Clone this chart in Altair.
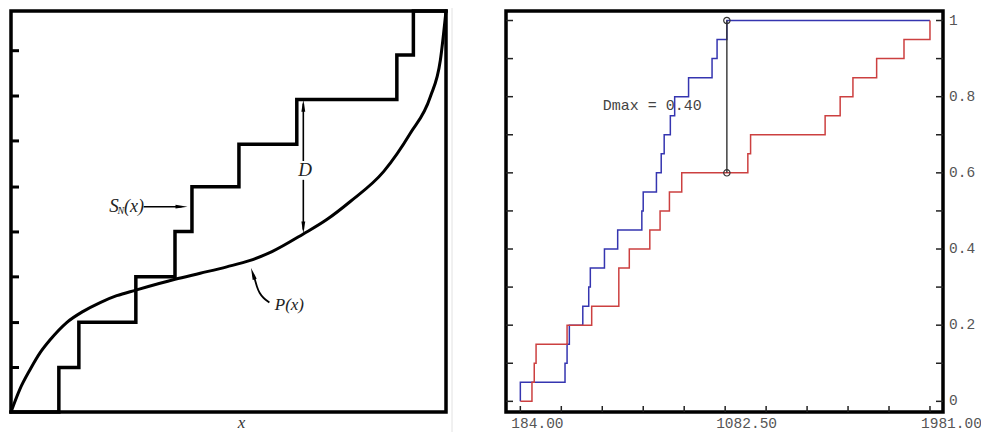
import altair as alt
import pandas as pd

# ---------------- Left panel: S_N(x) vs P(x) ----------------
sn_x = [0.0, 0.110, 0.156, 0.287, 0.377, 0.416, 0.524, 0.657, 0.887, 0.925, 1.0]
sn_y = [0.0, 0.111, 0.224, 0.337, 0.450, 0.562, 0.668, 0.779, 0.890, 1.0, 1.0]

px_x = [0.0, 0.020, 0.044, 0.067, 0.090, 0.128, 0.166, 0.205, 0.243, 0.287, 0.377,
        0.435, 0.496, 0.550, 0.600, 0.672, 0.726, 0.780, 0.857, 0.918, 0.964,
        0.987, 1.0]
px_y = [0.0, 0.056, 0.106, 0.148, 0.180, 0.223, 0.251, 0.273, 0.290, 0.304, 0.331,
        0.346, 0.362, 0.378, 0.400, 0.444, 0.480, 0.525, 0.600, 0.695, 0.786,
        0.877, 1.0]

left_ticks = [0.111, 0.223, 0.337, 0.449, 0.561, 0.676, 0.788, 0.901]

# annotation anchors (data units)
d_x = 0.672
d_top, d_gap_top, d_gap_bot, d_bot = 0.779, 0.626, 0.579, 0.445
sn_arrow_x = [0.305, 0.392]
sn_arrow_y = 0.512
p_arrow_x = [0.594, 0.580, 0.571, 0.565, 0.561, 0.557]
p_arrow_y = [0.273, 0.284, 0.297, 0.313, 0.330, 0.342]

# ---------------- Right panel: two-sample KS ----------------
blue_sample = [184, 380, 389, 399, 458, 484, 491, 553, 611, 717, 723, 781, 802,
               815, 842, 861, 922, 1025, 1047, 1090]
red_sample = [235, 245, 253, 389, 497, 616, 616, 662, 752, 797, 838, 892, 1182,
              1194, 1521, 1587, 1643, 1747, 1867, 1981]
x_ticks = [184.0, 363.7, 543.4, 723.1, 902.8, 1082.5, 1262.2, 1441.9, 1621.6,
           1801.3, 1981.0]
x_tick_labels = [184.0, 1082.5, 1981.0]
y_ticks = [0.0, 0.1, 0.2, 0.3, 0.4, 0.5, 0.6, 0.7, 0.8, 0.9, 1.0]
y_tick_labels = [0.0, 0.2, 0.4, 0.6, 0.8, 1.0]


def ecdf_points(sample, start, end):
    s = sorted(sample)
    n = len(s)
    pts = [(start, 0.0)]
    i = 0
    while i < n:
        v = s[i]
        j = i
        while j < n and s[j] == v:
            j += 1
        pts.append((v, j / n))
        i = j
    if pts[-1][0] < end:
        pts.append((end, 1.0))
    return pts


def ecdf_at(sample, v):
    return sum(1 for s in sample if s <= v) / len(sample)


x_lo = min(blue_sample + red_sample)
x_hi = max(blue_sample + red_sample)

rows = []
for name, smp in (("blue", blue_sample), ("red", red_sample)):
    for k, (xv, yv) in enumerate(ecdf_points(smp, x_lo, x_hi)):
        rows.append({"series": name, "x": xv, "y": yv, "i": k})
ecdf_df = pd.DataFrame(rows)

best = (0.0, None)
for v in sorted(set(blue_sample + red_sample)):
    d = abs(ecdf_at(blue_sample, v) - ecdf_at(red_sample, v))
    if d > best[0] + 1e-12:
        best = (d, v)
dmax, dmax_x = best
dmax_df = pd.DataFrame({
    "x": [dmax_x, dmax_x],
    "y": [ecdf_at(blue_sample, dmax_x), ecdf_at(red_sample, dmax_x)],
})
dtext_df = pd.DataFrame({"x": [545.6], "y": [0.779], "t": ["Dmax = %.2f" % dmax]})

LW, LH = 435, 401
RW, RH = 437, 401

# ================= LEFT CHART =================
lxs = alt.Scale(domain=[0, 1], nice=False, zero=False)
lys = alt.Scale(domain=[0, 1], nice=False, zero=False)


def LX(f="x:Q"):
    return alt.X(f, scale=lxs, axis=None)


def LY(f="y:Q"):
    return alt.Y(f, scale=lys, axis=None)


sn_df = pd.DataFrame({"x": sn_x, "y": sn_y, "i": list(range(len(sn_x)))})
p_df = pd.DataFrame({"x": px_x, "y": px_y, "i": list(range(len(px_x)))})

step_layer = alt.Chart(sn_df).mark_line(
    interpolate="step-after", color="black", strokeWidth=3.5, strokeCap="square"
).encode(x=LX(), y=LY(), order="i:Q")

lticks_layer = alt.Chart(pd.DataFrame({"y": left_ticks})).mark_tick(
    orient="horizontal", color="black", size=8, thickness=3, opacity=1
).encode(x=alt.value(4), y=LY())

p_layer = alt.Chart(p_df).mark_line(
    interpolate="monotone", color="black", strokeWidth=3, strokeCap="round"
).encode(x=LX(), y=LY(), order="i:Q")

d_lines = pd.DataFrame({
    "x": [d_x, d_x, d_x, d_x],
    "y": [d_top - 0.01, d_gap_top, d_gap_bot, d_bot + 0.01],
    "g": ["a", "a", "b", "b"],
})
d_layer = alt.Chart(d_lines).mark_line(color="black", strokeWidth=1.6).encode(
    x=LX(), y=LY(), detail="g:N")

heads_df = pd.DataFrame({
    "x": [d_x, d_x, sn_arrow_x[1], 0.556],
    "y": [d_top - 0.015, d_bot + 0.015, sn_arrow_y, 0.345],
    "shape": [
        "M0,-1L0.32,1L-0.32,1Z",
        "M0,1L0.32,-1L-0.32,-1Z",
        "M1,0L-1,0.32L-1,-0.32Z",
        "M0,-1L0.35,1L-0.35,1Z",
    ],
    "angle": [0, 0, 0, 342],
})
heads_layer = alt.Chart(heads_df).mark_point(
    filled=True, color="black", opacity=1, size=144, strokeWidth=0
).encode(
    x=LX(), y=LY(),
    shape=alt.Shape("shape:N", scale=None),
    angle=alt.Angle("angle:Q", scale=None),
)

sn_arrow_df = pd.DataFrame({"x": sn_arrow_x, "y": [sn_arrow_y, sn_arrow_y]})
sn_arrow_layer = alt.Chart(sn_arrow_df).mark_line(color="black", strokeWidth=1.6).encode(
    x=LX(), y=LY())

p_arrow_df = pd.DataFrame({"x": p_arrow_x, "y": p_arrow_y,
                           "i": list(range(len(p_arrow_x)))})
p_arrow_layer = alt.Chart(p_arrow_df).mark_line(
    color="black", strokeWidth=1.8, interpolate="basis"
).encode(x=LX(), y=LY(), order="i:Q")

labels_df = pd.DataFrame({
    "x": [0.226, 0.245, 0.260, 0.676, 0.640],
    "y": [0.500, 0.494, 0.500, 0.604, 0.268],
    "t": ["S", "N", "(x)", "D", "P(x)"],
    "fs": [19, 10, 18, 19, 17],
    "al": ["left", "left", "left", "center", "center"],
    "bl": ["alphabetic", "alphabetic", "alphabetic", "middle", "middle"],
})
text_layers = []
for _, r in labels_df.iterrows():
    text_layers.append(
        alt.Chart(pd.DataFrame([r])).mark_text(
            font="Liberation Serif", fontStyle="italic", fontSize=int(r["fs"]),
            align=r["al"], baseline=r["bl"], color="#222"
        ).encode(x=LX(), y=LY(), text="t:N")
    )

xtitle_layer = alt.Chart(pd.DataFrame({"x": [0.53], "t": ["x"]})).mark_text(
    font="Liberation Serif", fontStyle="italic", fontSize=17, align="center",
    baseline="alphabetic", color="#333"
).encode(x=LX(), y=alt.value(LH + 15.5), text="t:N")

# faint divider between the two figures
divider_layer = alt.Chart(pd.DataFrame({"d": [0]})).mark_rule(
    color="#e2e2e2", strokeWidth=1
).encode(x=alt.value(LW + 6), y=alt.value(-4), y2=alt.value(LH + 20))

left = alt.layer(
    divider_layer, step_layer, lticks_layer, p_layer, d_layer, sn_arrow_layer,
    p_arrow_layer, heads_layer, xtitle_layer, *text_layers
).properties(width=LW, height=LH)

# ================= RIGHT CHART =================
rxs = alt.Scale(domain=[121.1, 2038.1], nice=False, zero=False)
rys = alt.Scale(domain=[-0.028, 1.025], nice=False, zero=False)


def RX(f="x:Q"):
    return alt.X(f, scale=rxs, axis=None)


def RY(f="y:Q"):
    return alt.Y(f, scale=rys, axis=None)


label_font = "Liberation Mono"

ecdf_layer = alt.Chart(ecdf_df).mark_line(
    interpolate="step-after", strokeWidth=1.5
).encode(
    x=RX(), y=RY(),
    color=alt.Color("series:N", scale=alt.Scale(domain=["blue", "red"],
                                                range=["#3535b0", "#cc4040"]),
                    legend=None),
    order="i:Q",
)

yt_df = pd.DataFrame({"y": y_ticks})
rticks_left = alt.Chart(yt_df).mark_tick(
    orient="horizontal", color="#222", size=7, thickness=1.5, opacity=1
).encode(x=alt.value(3.5), y=RY())
rticks_right = alt.Chart(yt_df).mark_tick(
    orient="horizontal", color="#222", size=7, thickness=1.5, opacity=1
).encode(x=alt.value(RW - 3.5), y=RY())
rticks_bottom = alt.Chart(pd.DataFrame({"x": x_ticks})).mark_tick(
    orient="vertical", color="#222", size=6, thickness=1.5, opacity=1
).encode(x=RX(), y=alt.value(RH - 3))

xlab_df = pd.DataFrame({"x": x_tick_labels,
                        "t": ["%.2f" % v for v in x_tick_labels]})
xlab_layer = alt.Chart(xlab_df).mark_text(
    font=label_font, fontSize=14.5, align="left", baseline="alphabetic",
    dx=-9, color="#555"
).encode(x=RX(), y=alt.value(RH + 15.5), text="t:N")

ylab_df = pd.DataFrame({"y": y_tick_labels,
                        "t": ["%g" % v for v in y_tick_labels]})
ylab_layer = alt.Chart(ylab_df).mark_text(
    font=label_font, fontSize=14.5, align="left", baseline="middle", color="#555"
).encode(x=alt.value(RW + 6), y=RY(), text="t:N")

dmax_line = alt.Chart(dmax_df).mark_line(color="#333", strokeWidth=1.4).encode(
    x=RX(), y=RY())
dmax_pts = alt.Chart(dmax_df).mark_point(
    shape="circle", filled=False, color="#333", size=40, strokeWidth=1.2, opacity=1
).encode(x=RX(), y=RY())
dmax_text = alt.Chart(dtext_df).mark_text(
    font=label_font, fontSize=15, align="left", baseline="middle", color="#444"
).encode(x=RX(), y=RY(), text="t:N")

right = alt.layer(
    dmax_text, ecdf_layer, rticks_left, rticks_right, rticks_bottom, dmax_line,
    dmax_pts, xlab_layer, ylab_layer
).properties(width=RW, height=RH)

chart = alt.hconcat(left, right, spacing=49).properties(
    padding={"left": 3, "top": 3, "right": 970, "bottom": 417},
    autosize=alt.AutoSizeParams(type="none"),
    background="white",
).configure_view(stroke="black", strokeWidth=3.5)

chart.save("out.html", embed_options={"renderer": "svg", "actions": False})
